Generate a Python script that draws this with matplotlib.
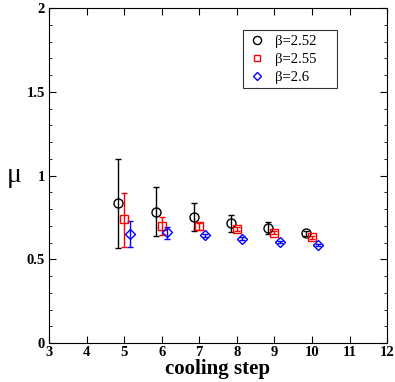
import matplotlib
matplotlib.use("Agg")
import matplotlib.pyplot as plt
from matplotlib.ticker import MultipleLocator, FuncFormatter
from matplotlib.lines import Line2D

plt.rcParams['font.family'] = ['Liberation Serif', 'DejaVu Serif']

x_b = [4.84, 5.85, 6.85, 7.84, 8.84, 9.84]
y_b = [0.834, 0.784, 0.752, 0.715, 0.688, 0.655]
lo_b = [0.565, 0.639, 0.670, 0.661, 0.649, 0.640]
hi_b = [1.098, 0.931, 0.836, 0.764, 0.724, 0.670]

x_r = [4.99, 6.0, 7.0, 8.0, 9.0, 10.0]
y_r = [0.738, 0.700, 0.696, 0.681, 0.659, 0.631]
lo_r = [0.575, 0.643, 0.676, 0.671, 0.649, 0.623]
hi_r = [0.897, 0.754, 0.716, 0.691, 0.669, 0.639]

x_u = [5.15, 6.15, 7.15, 8.15, 9.15, 10.15]
y_u = [0.649, 0.661, 0.643, 0.623, 0.603, 0.583]
lo_u = [0.571, 0.621, 0.633, 0.615, 0.596, 0.577]
hi_u = [0.730, 0.694, 0.653, 0.631, 0.610, 0.589]

labels = ['β=2.52', 'β=2.55', 'β=2.6']

fig = plt.figure(figsize=(3.95, 3.82), dpi=100)
ax = fig.add_axes([0.124, 0.102, 0.856, 0.877])

series = [
    (x_b, y_b, lo_b, hi_b, 'black', 'o', 6.5),
    (x_r, y_r, lo_r, hi_r, 'red', 's', 5.2),
    (x_u, y_u, lo_u, hi_u, 'blue', 'D', 4.6),
]
handles = []
for (xs, ys, lo, hi, c, m, ms), lab in zip(series, labels):
    yerr = [[y - l for y, l in zip(ys, lo)], [h - y for y, h in zip(ys, hi)]]
    ax.errorbar(xs, ys, yerr=yerr, fmt=m, mfc='none', mec=c, ecolor=c,
                ms=ms, mew=1.0, elinewidth=1.0, capsize=2.2, capthick=1.0)
    handles.append(Line2D([], [], ls='none', marker=m, mfc='none', mec=c,
                          ms=ms * 0.9, mew=1.0, label=lab))

ax.set_xlim(3, 12)
ax.set_ylim(0, 2)
ax.xaxis.set_major_locator(MultipleLocator(1))
ax.yaxis.set_major_locator(MultipleLocator(0.5))
ax.yaxis.set_minor_locator(MultipleLocator(0.1))
ax.yaxis.set_major_formatter(FuncFormatter(lambda v, p: ('%g' % v)))
ax.tick_params(which='both', direction='in', top=True, right=True)
ax.tick_params(which='major', length=5, labelsize=10.5)
ax.tick_params(which='minor', length=2.5)
for lbl in ax.get_xticklabels() + ax.get_yticklabels():
    lbl.set_fontweight('bold')
ax.tick_params(axis='x', pad=2)
ax.tick_params(axis='y', pad=3)

ax.set_xlabel('cooling step', fontsize=15, fontweight='bold', labelpad=0)
ax.set_ylabel('μ', fontsize=20, rotation=0, va='center', labelpad=9)

leg = ax.legend(handles=handles, loc='upper left',
                bbox_to_anchor=(0.574, 0.5, 0.278, 0.434), mode='expand',
                frameon=True, fancybox=False, edgecolor='black', fontsize=10.5,
                handletextpad=0.6, borderpad=0.3, labelspacing=0.33,
                handlelength=1.3, borderaxespad=0)
leg.get_frame().set_linewidth(0.8)

fig.savefig('out.png', dpi=100)
